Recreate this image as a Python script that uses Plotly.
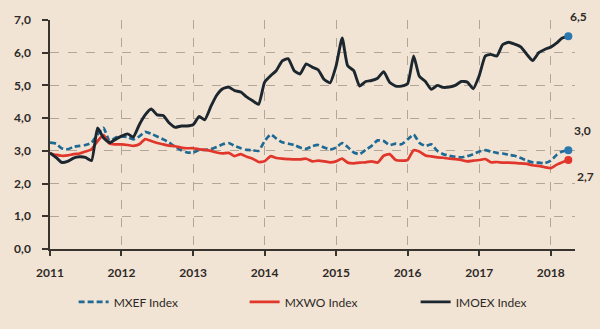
import pandas as pd
import plotly.graph_objects as go

dates = pd.date_range("2011-01-01", periods=88, freq="MS")

imoex = [2.94, 2.80, 2.65, 2.68, 2.78, 2.82, 2.80, 2.70, 3.70, 3.40, 3.25, 3.35,
         3.45, 3.52, 3.42, 3.80, 4.10, 4.28, 4.10, 4.08, 3.85, 3.72, 3.76, 3.76,
         3.80, 4.05, 3.95, 4.35, 4.70, 4.90, 4.95, 4.84, 4.80, 4.65, 4.53, 4.42,
         5.10, 5.30, 5.45, 5.75, 5.82, 5.45, 5.35, 5.66, 5.56, 5.48, 5.18, 5.08,
         5.60, 6.45, 5.60, 5.45, 4.98, 5.12, 5.15, 5.22, 5.42, 5.10, 4.98, 4.98,
         5.05, 5.90, 5.28, 5.12, 4.88, 5.00, 4.94, 4.95, 5.00, 5.12, 5.10, 4.90,
         5.30, 5.90, 5.95, 5.90, 6.25, 6.32, 6.26, 6.18, 5.95, 5.76, 6.00, 6.10,
         6.17, 6.30, 6.45, 6.50]

mxef = [3.25, 3.22, 3.08, 3.05, 3.12, 3.15, 3.18, 3.25, 3.50, 3.70, 3.30, 3.40,
        3.44, 3.42, 3.35, 3.44, 3.58, 3.52, 3.44, 3.35, 3.25, 3.12, 3.02, 2.95,
        2.95, 3.03, 3.03, 3.05, 3.12, 3.20, 3.24, 3.15, 3.08, 3.03, 3.02, 3.00,
        3.30, 3.50, 3.38, 3.26, 3.22, 3.18, 3.10, 3.06, 3.14, 3.18, 3.10, 3.04,
        3.10, 3.24, 3.12, 2.95, 2.90, 3.03, 3.15, 3.32, 3.30, 3.18, 3.22, 3.20,
        3.35, 3.50, 3.25, 3.15, 3.20, 3.00, 2.90, 2.85, 2.82, 2.80, 2.84, 2.90,
        2.98, 3.02, 2.98, 2.94, 2.92, 2.88, 2.85, 2.78, 2.70, 2.65, 2.64, 2.62,
        2.70, 2.88, 2.98, 3.02]

mxwo = [2.92, 2.88, 2.85, 2.86, 2.90, 2.92, 2.98, 3.05, 3.30, 3.48, 3.22, 3.20,
        3.20, 3.18, 3.15, 3.20, 3.36, 3.30, 3.24, 3.20, 3.16, 3.14, 3.10, 3.08,
        3.08, 3.05, 3.03, 3.00, 2.95, 2.92, 2.94, 2.84, 2.90, 2.82, 2.76, 2.66,
        2.68, 2.84, 2.78, 2.76, 2.75, 2.74, 2.74, 2.76, 2.68, 2.70, 2.68, 2.65,
        2.68, 2.76, 2.64, 2.62, 2.64, 2.65, 2.68, 2.64, 2.85, 2.90, 2.72, 2.70,
        2.72, 3.02, 2.98, 2.86, 2.83, 2.80, 2.79, 2.76, 2.75, 2.72, 2.68, 2.70,
        2.72, 2.75, 2.65, 2.66, 2.64, 2.64, 2.63, 2.62, 2.60, 2.56, 2.54, 2.50,
        2.47, 2.58, 2.65, 2.72]

names = ["MXEF Index", "MXWO Index", "IMOEX Index"]
year_ticks = [f"{y}-01-01" for y in range(2011, 2019)]
year_labels = [str(y) for y in range(2011, 2019)]
y_ticks = [0, 1, 2, 3, 4, 5, 6, 7]

BG = "#F2E4D4"
BLUE = "#1F6A94"
RED = "#E0362B"
DARK = "#1C262E"
DOT_BLUE = "#2A78B0"
GRID = "#B3A697"
TXT = "#2E2A27"
FONT = "Lato, Open Sans, sans-serif"

fig = go.Figure()
fig.add_trace(go.Scatter(x=dates, y=mxef, name=names[0], mode="lines",
                         line=dict(color=BLUE, width=2.7, dash="6px,3px", shape="spline", smoothing=0.5)))
fig.add_trace(go.Scatter(x=dates, y=mxwo, name=names[1], mode="lines",
                         line=dict(color=RED, width=2.7, shape="spline", smoothing=0.5)))
fig.add_trace(go.Scatter(x=dates, y=imoex, name=names[2], mode="lines",
                         line=dict(color=DARK, width=2.9, shape="spline", smoothing=0.5)))

# end markers
ends = [(imoex, DOT_BLUE, 10, 20), (mxef, DOT_BLUE, 14, 20), (mxwo, RED, 17, -16)]
for series, col, xs, ys in ends:
    fig.add_trace(go.Scatter(x=[dates[-1]], y=[series[-1]], mode="markers",
                             marker=dict(color=col, size=8, line=dict(color=col, width=0)),
                             showlegend=False, hoverinfo="skip", cliponaxis=False))
    fig.add_annotation(x=dates[-1], y=series[-1], xref="x", yref="y",
                       text=f"<b>{series[-1]:.1f}</b>".replace(".", ","), showarrow=False,
                       xshift=xs, yshift=ys,
                       font=dict(family=FONT, size=12, color=TXT))

fig.update_layout(
    width=600, height=329,
    margin=dict(l=50, r=25, t=14, b=77),
    paper_bgcolor=BG, plot_bgcolor=BG,
    separators=",.",
    font=dict(family=FONT, size=12, color=TXT),
    showlegend=True,
    legend=dict(orientation="h", x=0.045, xanchor="left", y=-0.231, yanchor="middle",
                entrywidth=126, entrywidthmode="pixels", bgcolor="rgba(0,0,0,0)",
                font=dict(size=12, color=TXT, family=FONT), traceorder="normal"),
)
fig.update_xaxes(range=["2011-01-01", "2018-05-05"], tickvals=year_ticks, ticktext=year_labels,
                 showgrid=True, gridcolor=GRID, griddash="dash", gridwidth=1,
                 showline=True, linecolor="#3A342E", linewidth=1.5,
                 ticks="outside", ticklen=5, tickcolor="#3A342E", tickwidth=1.5,
                 ticklabelstandoff=7,
                 tickfont=dict(size=12, color=TXT, family=FONT, weight="bold"),
                 zeroline=False)
fig.update_yaxes(range=[0, 7], tickvals=y_ticks, tickformat=".1f",
                 showgrid=True, gridcolor=GRID, griddash="dash", gridwidth=1,
                 showline=True, linecolor="#3A342E", linewidth=1.5,
                 ticks="outside", ticklen=6, tickcolor="#3A342E", tickwidth=1.5,
                 ticklabelstandoff=9,
                 tickfont=dict(size=12, color=TXT, family=FONT, weight="bold"),
                 zeroline=False)

fig.write_html("out.html")
